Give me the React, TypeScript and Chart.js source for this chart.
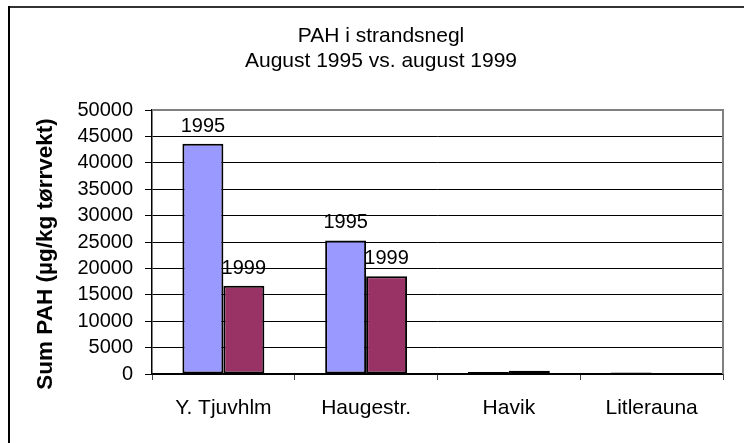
import React, { useEffect, useRef } from "react";
import { Chart, registerables } from "chart.js";

Chart.register(...registerables);

const categories = ["Y. Tjuvhlm", "Haugestr.", "Havik", "Litlerauna"];
const seriesNames = ["1995", "1999"];
const values1995 = [43600, 25300, 400, 300];
const values1999 = [16700, 18500, 600, 150];
const labelledCategories = ["Y. Tjuvhlm", "Haugestr."];
const titleLines = ["PAH i strandsnegl", "August 1995 vs. august 1999"];
const yAxisTitle = "Sum PAH (µg/kg tørrvekt)";
const yMin = 0;
const yMax = 50000;
const yStep = 5000;

const FONT = "'Liberation Sans', Arial, sans-serif";

const decorPlugin = {
  id: "decor",
  beforeDraw(chart: any) {
    const { ctx, width, height } = chart;
    ctx.save();
    ctx.fillStyle = "#ffffff";
    ctx.fillRect(0, 0, width, height);
    // outer chart border (top and left visible)
    ctx.fillStyle = "#333333";
    ctx.fillRect(8, 6, width - 8, 2);
    ctx.fillStyle = "#000000";
    ctx.fillRect(8, 6, 2, height - 6);
    ctx.restore();
  },
  afterDatasetsDraw(chart: any) {
    const { ctx } = chart;
    ctx.save();
    ctx.font = `20px ${FONT}`;
    ctx.fillStyle = "#000";
    ctx.textAlign = "center";
    ctx.textBaseline = "alphabetic";
    chart.data.datasets.forEach((ds: any, di: number) => {
      const meta = chart.getDatasetMeta(di);
      chart.data.labels.forEach((lab: string, i: number) => {
        if (!labelledCategories.includes(lab)) return;
        const bar = meta.data[i];
        ctx.fillText(ds.label, bar.x, bar.y - 12);
      });
    });
    ctx.restore();
  },
  afterDraw(chart: any) {
    const { ctx, chartArea } = chart;
    const yScale = chart.scales.y;
    ctx.save();
    // plot-area border (top and right, grey)
    ctx.strokeStyle = "#808080";
    ctx.lineWidth = 2;
    const topY = yScale.getPixelForValue(yMax);
    ctx.beginPath();
    ctx.moveTo(chartArea.left + 1, topY);
    ctx.lineTo(chartArea.right, topY);
    ctx.lineTo(chartArea.right, chartArea.bottom);
    ctx.stroke();
    // titles
    ctx.fillStyle = "#000";
    ctx.textAlign = "center";
    ctx.textBaseline = "alphabetic";
    ctx.font = `21px ${FONT}`;
    ctx.fillText(titleLines[0], 381, 42);
    ctx.fillText(titleLines[1], 381, 67);
    // y-axis title
    ctx.translate(46, 254);
    ctx.rotate(-Math.PI / 2);
    ctx.font = `bold 22.5px ${FONT}`;
    ctx.textBaseline = "middle";
    ctx.fillText(yAxisTitle, 0, 0);
    ctx.restore();
  },
};

export default function App() {
  const canvasRef = useRef<HTMLCanvasElement | null>(null);

  useEffect(() => {
    if (!canvasRef.current) return;
    const chart = new Chart(canvasRef.current, {
      type: "bar",
      data: {
        labels: categories,
        datasets: [
          {
            label: seriesNames[0],
            data: values1995,
            backgroundColor: "#9999FF",
            borderColor: "#000000",
            borderWidth: 2,
            borderSkipped: false,
            categoryPercentage: 0.574,
            barPercentage: 1,
          },
          {
            label: seriesNames[1],
            data: values1999,
            backgroundColor: "#993366",
            borderColor: "#000000",
            borderWidth: 2,
            borderSkipped: false,
            categoryPercentage: 0.574,
            barPercentage: 1,
          },
        ],
      },
      options: {
        responsive: false,
        animation: false,
        layout: { padding: { left: 0, right: 21, top: 110, bottom: 0 } },
        plugins: {
          legend: { display: false },
          title: { display: false },
          tooltip: { enabled: false },
        },
        scales: {
          x: {
            afterFit: (s: any) => {
              s.height = 69;
            },
            grid: {
              offset: true,
              drawOnChartArea: false,
              drawTicks: true,
              tickLength: 6,
              tickColor: "#444444",
            },
            border: { color: "#000000", width: 1.5 },
            ticks: {
              color: "#000000",
              font: { family: FONT, size: 21 },
              padding: 16,
              autoSkip: false,
              maxRotation: 0,
            },
          },
          y: {
            min: yMin,
            max: yMax,
            afterFit: (s: any) => {
              s.width = 152;
            },
            grid: {
              color: (c: any) =>
                c.tick && c.tick.value === yMax ? "rgba(0,0,0,0)" : "#000000",
              lineWidth: 1,
              tickLength: 7,
              tickColor: "#000000",
            },
            border: { color: "#000000", width: 1.5 },
            ticks: {
              stepSize: yStep,
              autoSkip: false,
              color: "#000000",
              font: { family: FONT, size: 20 },
              padding: 12,
              callback: (v: any) => String(v),
            },
          },
        },
      },
      plugins: [decorPlugin],
    });
    return () => chart.destroy();
  }, []);

  return (
    <div
      style={{
        position: "fixed",
        left: 0,
        top: 0,
        width: 744,
        height: 443,
        background: "#fff",
      }}
    >
      <canvas ref={canvasRef} width={744} height={443} />
    </div>
  );
}
